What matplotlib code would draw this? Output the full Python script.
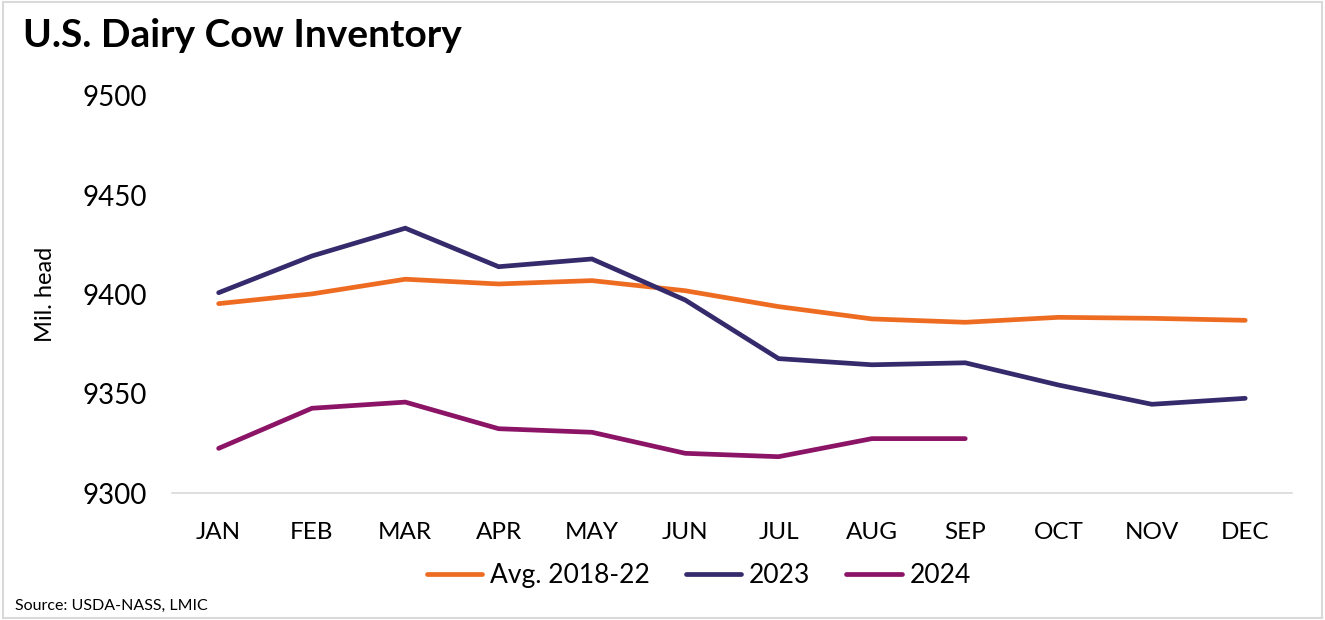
"""
U.S. dairy cow inventory by month: 5-year average vs 2023 vs 2024.
"""

import matplotlib
matplotlib.use('Agg')
import matplotlib.pyplot as plt
from matplotlib.patches import Rectangle

plt.rcParams['font.family'] = ['Lato', 'DejaVu Sans']

months = ['JAN', 'FEB', 'MAR', 'APR', 'MAY', 'JUN',
          'JUL', 'AUG', 'SEP', 'OCT', 'NOV', 'DEC']

# values (thousand head, labelled "Mil. head" on the source)
avg_2018_22 = [9395.4, 9400.3, 9407.7, 9405.3, 9407.0, 9401.9,
               9393.9, 9387.7, 9386.0, 9388.5, 9388.0, 9387.0]
y2023 = [9400.9, 9419.4, 9433.4, 9414.0, 9417.9, 9397.2,
         9367.7, 9364.6, 9365.6, 9354.4, 9344.7, 9347.7]
y2024 = [9322.5, 9342.7, 9345.8, 9332.4, 9330.6, 9320.0,
         9318.3, 9327.4, 9327.4]

series = [
    ('Avg. 2018-22', avg_2018_22, '#EE6C22'),
    ('2023', y2023, '#352A6B'),
    ('2024', y2024, '#8B1466'),
]

fig = plt.figure(figsize=(13.25, 6.2), dpi=100)
ax = fig.add_axes([0.1298, 0.2048, 0.8452, 0.6404])

for label, vals, color in series:
    x = list(range(len(vals)))
    ax.plot(x, vals, color=color, lw=3.4, solid_capstyle='round',
            solid_joinstyle='miter', label=label)

ax.set_xlim(-0.5, len(months) - 0.5)
ax.set_ylim(9300, 9500)
ax.set_yticks([9300, 9350, 9400, 9450, 9500])
ax.set_xticks(range(len(months)))
ax.set_xticklabels(months)

for side in ['top', 'right', 'left']:
    ax.spines[side].set_visible(False)
ax.spines['bottom'].set_color('#d9d9d9')
ax.spines['bottom'].set_linewidth(1.2)

ax.tick_params(axis='y', length=0, labelsize=20, pad=18, colors='#000000')
ax.tick_params(axis='x', length=0, labelsize=17.5, pad=21, colors='#000000')

ax.set_ylabel('Mil. head', fontsize=17)
ax.yaxis.set_label_coords(-0.104, 0.5)

fig.text(0.017, 0.943, 'U.S. Dairy Cow Inventory', fontsize=28,
         fontweight='bold', ha='left', va='center')

fig.legend(loc='center', bbox_to_anchor=(0.5275, 0.072), ncol=3, frameon=False,
           fontsize=19, handlelength=2.1, handletextpad=0.3, columnspacing=1.35)

fig.text(0.011, 0.022, 'Source: USDA-NASS, LMIC', fontsize=11.5,
         ha='left', va='center')

# thin grey frame around the whole graphic
fig.patches.append(Rectangle((0.002, 0.003), 0.996, 0.994, transform=fig.transFigure,
                             fill=False, edgecolor='#d9d9d9', lw=1.5))

fig.savefig('out.png', dpi=100)
